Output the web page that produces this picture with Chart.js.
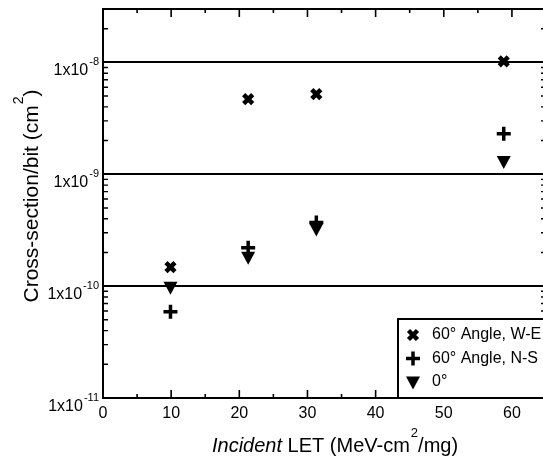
<!DOCTYPE html>
<html lang="en">
<head>
    <meta charset="UTF-8">
    <title>Cross-section vs LET</title>
    <style>
        body {
            margin: 0;
            background-color: #ffffff;
            overflow: hidden;
        }
        .wrap {
            position: relative;
            width: 548px;
            height: 463px;
        }
    </style>
    <script src="https://cdn.jsdelivr.net/npm/chart.js"></script>
</head>
<body>
    <div class="wrap"><canvas id="letChart"></canvas></div>
    <script>
        // Incident LET (MeV-cm2/mg) and measured cross-sections per bit (cm2)
        const letValues = [9.9, 21.3, 31.3, 58.8];
        const crossWE = [1.48e-10, 4.7e-9, 5.2e-9, 1.02e-8];
        const crossNS = [5.9e-11, 2.2e-10, 3.7e-10, 2.3e-9];
        const crossNormal = [1.0e-10, 1.85e-10, 3.3e-10, 1.33e-9];
        const seriesLabels = ['60\u00b0 Angle, W-E', '60\u00b0 Angle, N-S', '0\u00b0'];
        const decadeExponents = [-11, -10, -9, -8];
        const xTickValues = [0, 10, 20, 30, 40, 50, 60];

        const FONT = "'Liberation Sans', Arial, sans-serif";

        function toPoints(ys) {
            return letValues.map((x, i) => ({ x: x, y: ys[i] }));
        }

        // marker shapes, shared by the plot and the legend box
        function drawMarker(ctx, kind, x, y) {
            ctx.save();
            ctx.fillStyle = '#000';
            ctx.strokeStyle = '#000';
            if (kind === 0) {
                ctx.lineWidth = 4.5;
                ctx.beginPath();
                ctx.moveTo(x - 4.5, y - 4.5); ctx.lineTo(x + 4.5, y + 4.5);
                ctx.moveTo(x + 4.5, y - 4.5); ctx.lineTo(x - 4.5, y + 4.5);
                ctx.stroke();
            } else if (kind === 1) {
                ctx.lineWidth = 3.5;
                ctx.beginPath();
                ctx.moveTo(x - 7, y); ctx.lineTo(x + 7, y);
                ctx.moveTo(x, y - 7); ctx.lineTo(x, y + 7);
                ctx.stroke();
            } else {
                ctx.beginPath();
                ctx.moveTo(x - 7, y - 4.5);
                ctx.lineTo(x + 7, y - 4.5);
                ctx.lineTo(x, y + 8.5);
                ctx.closePath();
                ctx.fill();
            }
            ctx.restore();
        }

        const framePlugin = {
            id: 'frame',
            afterDraw(chart) {
                const ctx = chart.ctx;
                const area = chart.chartArea;
                const xs = chart.scales.x;
                const ys = chart.scales.y;
                ctx.save();
                ctx.strokeStyle = '#000';

                // plot frame
                ctx.lineWidth = 2;
                ctx.strokeRect(area.left, area.top, area.right - area.left, area.bottom - area.top);

                // inward ticks on top and bottom axes
                ctx.lineWidth = 1.6;
                ctx.beginPath();
                for (let v = 5; v < xs.max; v += 5) {
                    const px = xs.getPixelForValue(v);
                    const len = v % 10 === 0 ? 8 : 4;
                    ctx.moveTo(px, area.bottom); ctx.lineTo(px, area.bottom - len);
                    ctx.moveTo(px, area.top); ctx.lineTo(px, area.top + len);
                }
                ctx.stroke();

                // minor log ticks on left and right axes
                ctx.lineWidth = 1.4;
                ctx.beginPath();
                for (let e = -11; e <= -8; e++) {
                    for (let m = 2; m <= 9; m++) {
                        const v = m * Math.pow(10, e);
                        if (v > ys.max) continue;
                        const py = ys.getPixelForValue(v);
                        ctx.moveTo(area.left, py); ctx.lineTo(area.left + 5, py);
                        ctx.moveTo(area.right, py); ctx.lineTo(area.right - 5, py);
                    }
                }
                ctx.stroke();

                // y tick labels: 1x10 with superscript exponent
                ctx.fillStyle = '#000';
                ctx.textBaseline = 'alphabetic';
                decadeExponents.forEach(e => {
                    const py = ys.getPixelForValue(Math.pow(10, e));
                    const sup = String(e);
                    ctx.font = '11px ' + FONT;
                    const supW = ctx.measureText(sup).width;
                    const right = area.left - 4;
                    ctx.textAlign = 'left';
                    ctx.fillText(sup, right - supW, py + 3);
                    ctx.font = '16px ' + FONT;
                    ctx.textAlign = 'right';
                    ctx.fillText('1x10', right - supW - 1, py + 13);
                });

                // x axis title
                const tx = 212, ty = 452;
                ctx.textAlign = 'left';
                ctx.font = 'italic 20px ' + FONT;
                ctx.fillText('Incident', tx, ty);
                let cx = tx + ctx.measureText('Incident').width;
                ctx.font = '20px ' + FONT;
                const part1 = ' LET (MeV-cm';
                ctx.fillText(part1, cx, ty);
                cx += ctx.measureText(part1).width;
                ctx.font = '13px ' + FONT;
                ctx.fillText('2', cx + 1, ty - 15);
                cx += ctx.measureText('2').width + 1;
                ctx.font = '20px ' + FONT;
                ctx.fillText('/mg)', cx, ty);

                // y axis title, rotated
                ctx.save();
                ctx.font = '21px ' + FONT;
                const yA = 'Cross-section/bit (cm';
                const wA = ctx.measureText(yA).width;
                ctx.font = '14px ' + FONT;
                const w2 = ctx.measureText('2').width;
                ctx.font = '21px ' + FONT;
                const total = wA + w2 + 1 + ctx.measureText(')').width;
                ctx.translate(38, 196 + total / 2);
                ctx.rotate(-Math.PI / 2);
                ctx.fillText(yA, 0, 0);
                ctx.font = '14px ' + FONT;
                ctx.fillText('2', wA + 1, -15);
                ctx.font = '21px ' + FONT;
                ctx.fillText(')', wA + w2 + 1, 0);
                ctx.restore();

                // legend box in the lower right corner
                const lx = 398, ly = 319;
                ctx.fillStyle = '#fff';
                ctx.fillRect(lx, ly, area.right - lx, area.bottom - ly);
                ctx.lineWidth = 2;
                ctx.strokeRect(lx, ly, area.right - lx + 4, area.bottom - ly);
                ctx.fillStyle = '#000';
                ctx.font = '16px ' + FONT;
                ctx.textAlign = 'left';
                ctx.textBaseline = 'middle';
                seriesLabels.forEach((label, i) => {
                    const rowY = ly + 16 + i * 23.5;
                    drawMarker(ctx, i, lx + 15, i === 2 ? rowY - 1 : rowY);
                    ctx.fillText(label, lx + 34, rowY);
                });
                ctx.restore();
            }
        };

        // custom point drawing through the chart's own element positions
        const markerPlugin = {
            id: 'markers',
            afterDatasetsDraw(chart) {
                chart.data.datasets.forEach((ds, i) => {
                    chart.getDatasetMeta(i).data.forEach(pt => {
                        drawMarker(chart.ctx, i, pt.x, pt.y);
                    });
                });
            }
        };

        new Chart(document.getElementById('letChart').getContext('2d'), {
            type: 'scatter',
            data: {
                datasets: [
                    { label: seriesLabels[0], data: toPoints(crossWE), pointRadius: 0 },
                    { label: seriesLabels[1], data: toPoints(crossNS), pointRadius: 0 },
                    { label: seriesLabels[2], data: toPoints(crossNormal), pointRadius: 0 }
                ]
            },
            options: {
                responsive: true,
                maintainAspectRatio: false,
                animation: false,
                layout: { padding: { top: 9, right: 2, left: 0, bottom: 0 } },
                plugins: {
                    legend: { display: false },
                    tooltip: { enabled: false }
                },
                scales: {
                    x: {
                        type: 'linear',
                        min: 0,
                        max: 65,
                        afterBuildTicks: scale => {
                            scale.ticks = xTickValues.map(v => ({ value: v }));
                        },
                        afterFit: scale => { scale.height = 65; },
                        grid: { display: false, drawTicks: false },
                        border: { display: false },
                        ticks: {
                            color: '#000',
                            padding: 6,
                            maxRotation: 0,
                            font: { family: FONT, size: 16 }
                        }
                    },
                    y: {
                        type: 'logarithmic',
                        min: 1e-11,
                        max: 3e-8,
                        afterBuildTicks: scale => {
                            scale.ticks = decadeExponents.map(e => ({ value: Math.pow(10, e) }));
                        },
                        afterFit: scale => { scale.width = 103; },
                        grid: { color: '#000', lineWidth: 2, drawTicks: false },
                        border: { display: false },
                        ticks: { display: false }
                    }
                }
            },
            plugins: [markerPlugin, framePlugin]
        });
    </script>
</body>
</html>
